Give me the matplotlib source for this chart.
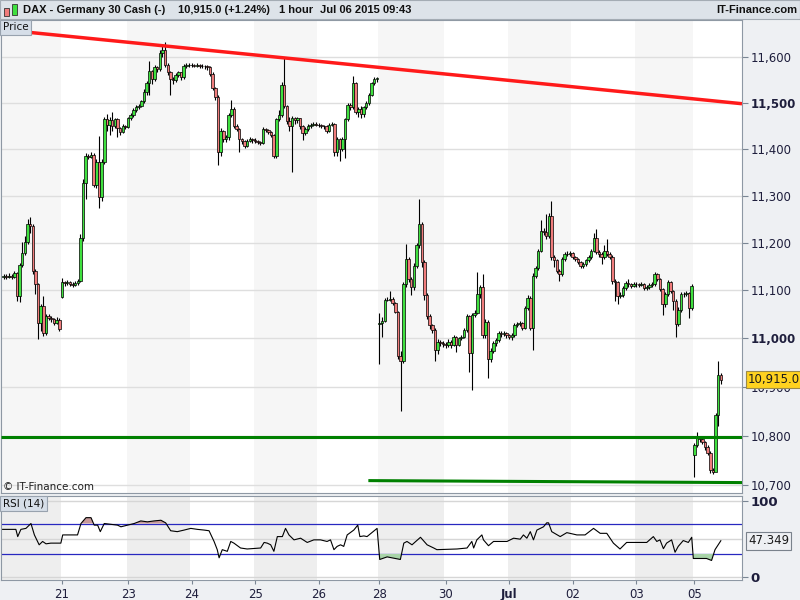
import matplotlib
matplotlib.use('Agg')
import matplotlib.pyplot as plt
import matplotlib.ticker as ticker
from matplotlib.patches import Rectangle
import numpy as np

# hourly candles (close / high / low), one line per trading session
closes = [
    11130, 11129, 11131, 11128, 11136, 11088, 11153, 11179, 11202, 11240, 11236, 11141, 11113, 11032, 11067, 11012, 11046, 11043, 11040, 11032, 11039, 11019,
    11117, 11115, 11117, 11113, 11112, 11116, 11120, 11211, 11328, 11386, 11384, 11388, 11322, 11372, 11298, 11372, 11464, 11452, 11462, 11450, 11464, 11445, 11436, 11450, 11448,
    11467, 11474, 11484, 11491, 11494, 11503, 11524, 11542, 11570, 11552, 11577, 11573, 11609, 11616, 11583, 11566, 11552, 11549, 11560, 11566, 11556, 11580, 11582, 11583,
    11582, 11581, 11583, 11580, 11581, 11579, 11578, 11563, 11532, 11513, 11393, 11439, 11421, 11425, 11474, 11486, 11450, 11443, 11421, 11418, 11407, 11418, 11421, 11420,
    11418, 11415, 11414, 11443, 11441, 11436, 11430, 11386, 11464, 11474, 11538, 11492, 11460, 11450, 11466, 11462, 11466, 11450, 11434, 11443, 11450, 11453, 11455, 11453,
    11452, 11450, 11449, 11439, 11452, 11455, 11393, 11421, 11400, 11421, 11464, 11496, 11490, 11542, 11479, 11486, 11475, 11490, 11500, 11517, 11542, 11551, 11553,
    11032, 11037, 11081, 11081, 11083, 11074, 11056, 10964, 10954, 11113, 11166, 11124, 11107, 11152, 11195, 11240, 11160, 11090, 11046, 11028, 11018, 10977, 10993, 10990, 10988,
    10986, 10993, 10986, 11003, 10986, 11000, 11003, 11018, 11046, 10969, 11049, 11054, 11092, 11107, 11007, 11035, 10958, 10975, 10990, 10996, 11011, 11009, 11011, 11007,
    11003, 11007, 11028, 11030, 11032, 11022, 11064, 11085, 11022, 11131, 11147, 11184, 11226, 11223, 11214, 11258, 11171, 11163, 11141, 11134, 11166, 11177, 11177, 11178,
    11170, 11166, 11159, 11152, 11156, 11163, 11170, 11184, 11211, 11181, 11177, 11170, 11184, 11177, 11170, 11120, 11117, 11088, 11090, 11105, 11115, 11113, 11110, 11113,
    11113, 11112, 11113, 11106, 11107, 11112, 11114, 11134, 11124, 11103, 11071, 11092, 11117, 11099, 11078, 11030, 11060, 11092, 11092, 11094, 11064, 11109,
    10781, 10795, 10793, 10788, 10778, 10765, 10730, 10727, 10842, 10924, 10915,
]
highs = [
    11135, 11134, 11136, 11134, 11140, 11138, 11158, 11202, 11215, 11251, 11255, 11240, 11145, 11115, 11072, 11088, 11050, 11050, 11046, 11043, 11044, 11042,
    11126, 11120, 11121, 11119, 11117, 11120, 11124, 11218, 11336, 11392, 11390, 11394, 11392, 11378, 11428, 11378, 11470, 11475, 11470, 11481, 11468, 11466, 11448, 11454, 11453,
    11470, 11478, 11488, 11495, 11498, 11507, 11530, 11548, 11590, 11572, 11582, 11580, 11614, 11625, 11632, 11586, 11570, 11556, 11564, 11570, 11568, 11584, 11586, 11587,
    11586, 11585, 11587, 11585, 11585, 11583, 11582, 11580, 11566, 11535, 11516, 11445, 11442, 11430, 11478, 11506, 11490, 11455, 11446, 11424, 11420, 11422, 11425, 11424,
    11423, 11420, 11418, 11447, 11446, 11444, 11438, 11432, 11468, 11485, 11545, 11598, 11495, 11470, 11472, 11470, 11470, 11468, 11452, 11447, 11454, 11457, 11459, 11458,
    11456, 11455, 11453, 11451, 11456, 11459, 11457, 11426, 11424, 11425, 11468, 11500, 11500, 11559, 11545, 11490, 11492, 11494, 11504, 11521, 11546, 11555, 11557,
    11053, 11045, 11085, 11086, 11099, 11086, 11076, 11058, 10975, 11118, 11198, 11170, 11128, 11158, 11200, 11294, 11244, 11164, 11094, 11050, 11030, 11022, 10998, 10997, 10994,
    10992, 10998, 10996, 11008, 11005, 11004, 11007, 11022, 11050, 11048, 11054, 11060, 11139, 11112, 11134, 11040, 11038, 10980, 10994, 11000, 11015, 11015, 11016, 11013,
    11010, 11011, 11032, 11034, 11036, 11035, 11068, 11090, 11088, 11136, 11152, 11188, 11248, 11232, 11262, 11264, 11290, 11175, 11166, 11145, 11170, 11181, 11182, 11182,
    11180, 11173, 11168, 11161, 11160, 11167, 11174, 11188, 11220, 11230, 11185, 11180, 11195, 11209, 11180, 11174, 11125, 11120, 11096, 11109, 11119, 11124, 11116, 11117,
    11117, 11116, 11117, 11115, 11111, 11116, 11118, 11138, 11136, 11127, 11106, 11096, 11121, 11119, 11102, 11082, 11065, 11096, 11097, 11098, 11097, 11113,
    10786, 10808, 10800, 10796, 10790, 10781, 10768, 10735, 10846, 10954, 10928,
]
lows = [
    11124, 11125, 11126, 11124, 11126, 11078, 11076, 11150, 11175, 11198, 11222, 11135, 11092, 10998, 11015, 11005, 11008, 11038, 11035, 11028, 11030, 11015,
    11085, 11110, 11111, 11109, 11108, 11109, 11112, 11118, 11205, 11294, 11378, 11380, 11318, 11316, 11273, 11290, 11368, 11440, 11430, 11440, 11445, 11425, 11430, 11434, 11443,
    11445, 11462, 11470, 11480, 11486, 11490, 11500, 11518, 11517, 11540, 11548, 11566, 11570, 11600, 11578, 11560, 11517, 11540, 11545, 11555, 11550, 11552, 11576, 11578,
    11578, 11577, 11578, 11576, 11576, 11574, 11572, 11558, 11528, 11505, 11365, 11385, 11415, 11416, 11420, 11470, 11445, 11438, 11393, 11412, 11402, 11404, 11415, 11414,
    11413, 11410, 11409, 11411, 11436, 11432, 11426, 11380, 11380, 11460, 11470, 11488, 11455, 11440, 11350, 11455, 11456, 11444, 11420, 11430, 11440, 11446, 11450, 11449,
    11448, 11446, 11444, 11435, 11437, 11450, 11385, 11385, 11375, 11395, 11380, 11460, 11484, 11486, 11475, 11470, 11468, 11470, 11486, 11496, 11514, 11538, 11546,
    10947, 11003, 11035, 11077, 11078, 11070, 11052, 10958, 10851, 10950, 11108, 11118, 11090, 11100, 11148, 11190, 11150, 11080, 11040, 11020, 11012, 10954, 10968, 10985, 10982,
    10980, 10983, 10980, 10984, 10972, 10984, 10996, 11000, 11014, 10930, 10894, 11045, 11050, 11085, 11000, 11002, 10918, 10952, 10970, 10985, 10992, 11003, 11005, 11002,
    10998, 10996, 11004, 11024, 11026, 11018, 11020, 11060, 11018, 10977, 11126, 11142, 11180, 11216, 11208, 11210, 11165, 11150, 11136, 11120, 11130, 11162, 11172, 11173,
    11166, 11161, 11155, 11147, 11148, 11152, 11160, 11166, 11180, 11176, 11170, 11156, 11166, 11172, 11166, 11114, 11078, 11071, 11084, 11086, 11100, 11108, 11105, 11107,
    11108, 11108, 11109, 11102, 11102, 11104, 11108, 11110, 11120, 11098, 11049, 11066, 11088, 11094, 11060, 11003, 11025, 11056, 11087, 11088, 11042, 11060,
    10717, 10778, 10788, 10783, 10772, 10760, 10724, 10722, 10735, 10820, 10905,
]
# opening prices after weekend gaps (other bars open at the previous close)
gap_opens = {0: 11128, 22: 11087, 142: 11030, 261: 10761}

# sessions: first bar of each labelled day, and the shaded session edges
day_labels = ['21', '23', '24', '25', '26', '28', '30', 'Jul', '02', '03', '05']
day_starts = [22, 47, 71, 95, 119, 142, 167, 191, 215, 239, 261]
session_edges = [-1.02, 21.5, 46.5, 70.5, 94.5, 118.5, 141.5, 166.5, 190.5, 214.5, 238.5, 260.5, 279]

price_ticks = [10700, 10800, 10900, 11000, 11100, 11200, 11300, 11400, 11500, 11600]
bold_ticks = [11000, 11500]
last_price = 10915.0

# drawn trend lines (bar index, price)
red_x, red_y = [-1.02, 279], [11660, 11498]
green1_x, green1_y = [-1.02, 279], [10797, 10797]
green2_x, green2_y = [137.8, 279], [10709, 10705]

# RSI(14)
rsi_x = [-0.4, 4.6, 5.3, 6.5, 8.4, 10.3, 11.6, 13.4, 14.7, 16, 17.8, 21.6, 22.3, 27.9, 29.2, 31.1, 33, 34.2, 35.5, 36.5,
         38, 43, 44.3, 46.8, 49.3, 51.8, 54.3, 56.8, 59.4, 61.2, 63.1, 65.6, 68.2, 70.7, 73.2, 75.7, 77.6, 79.5, 80.7, 81.4,
         82.6, 84.5, 85.8, 87, 89.5, 92, 97.1, 98.4, 99.6, 100.9, 102.1, 103.4, 105.3, 106.5, 107.8, 109.7, 112.2, 114.7, 117.2, 119.7,
         122.2, 123.5, 124.8, 126, 127.3, 128.5, 129.8, 132.3, 133.8, 134.6, 136.1, 137.3, 141.1, 142.1, 144.9, 148.7, 149.9, 151.2, 152.4, 154.3,
         157.5, 160, 162.5, 163.7, 171.3, 175.1, 176.9, 177.6, 178.8, 180.7, 181.3, 183.2, 185.1, 190.2, 192.7, 195.2, 196.4, 197.7, 199, 200.2,
         201.5, 204, 205.2, 205.9, 207.1, 210.3, 212.8, 216.6, 219.7, 222.9, 225.4, 227.9, 230.4, 232.9, 235.4, 243, 245.5, 246.8, 248, 249.3,
         250.5, 252.4, 253.7, 254.9, 256.8, 258.7, 260, 260.6, 265.6, 267.5, 268.8, 271]
rsi_y = [62.3, 62.3, 52.8, 62.3, 63.6, 70, 55, 42, 46.4, 43.3, 44.2, 44.2, 55, 55, 70, 77.7, 77.7, 67.9, 67.9, 59.3,
         70, 67.9, 65.7, 67.9, 70, 73.4, 72.2, 73.4, 74.3, 70.9, 60.5, 59.3, 61.4, 63.6, 62.3, 61.4, 60.5, 46.4, 35.6, 24.9,
         35.6, 33.4, 46.4, 44.2, 37.8, 36.5, 37.8, 45.1, 44.2, 42, 33.4, 52.8, 52.8, 63.6, 55, 48.5, 50.7, 45.1, 48.5, 48.5,
         46.4, 48.5, 35.6, 39.9, 42, 39.9, 55, 61.4, 67.9, 52.8, 53.7, 52.8, 63.6, 22.7, 26.1, 23.6, 22.7, 44.2, 46.4, 42,
         51.9, 42, 37.8, 35.6, 36.5, 37.8, 46.4, 37.8, 48.5, 55, 48.5, 40.8, 46.4, 46.4, 50.7, 49.4, 55, 50.7, 59.3, 48.5,
         61.4, 65.7, 70.9, 70.9, 59.3, 52.8, 58, 55, 55, 63.6, 57.1, 57.1, 44.2, 36.5, 45.1, 45.1, 52.8, 46.4, 48.5, 36.9,
         44.2, 48.5, 32.2, 39.9, 47.6, 45.1, 51.9, 24, 24, 21.4, 35.6, 47.349]
rsi_last = 47.349

BG = '#eef0f3'
FRAME = '#8e98a4'
TICKCOL = '#1e1e3c'
HEADFONT = ['Liberation Sans', 'DejaVu Sans']


def px(x0, y0, x1, y1):
    # pixel box (top-left origin) -> figure fraction rect
    return [x0 / 800, 1 - y1 / 600, (x1 - x0) / 800, (y1 - y0) / 600]


fig = plt.figure(figsize=(8, 6), dpi=100, facecolor=BG)
ax = fig.add_axes(px(1, 20, 742, 493))
axr = fig.add_axes(px(1, 496, 742, 580), sharex=ax)

# ---------------- price panel ----------------
ax.set_yscale('log')
ax.set_ylim(10684, 11681)
ax.set_xlim(session_edges[0], session_edges[-1])

for k in range(len(session_edges) - 1):
    if k % 2 == 0:
        ax.axvspan(session_edges[k], session_edges[k + 1], color='#f6f6f6', lw=0, zorder=0)
        axr.axvspan(session_edges[k], session_edges[k + 1], color='#eeeeee', lw=0, zorder=0)

for p in price_ticks:
    ax.axhline(p, color='#dedede', lw=1, zorder=1)

x = np.arange(len(closes))
opens = [gap_opens.get(i, closes[i - 1]) for i in x]
bottoms = [min(o, c) for o, c in zip(opens, closes)]
heights = [abs(c - o) for o, c in zip(opens, closes)]
colors = ['#3fe03f' if c >= o else '#f07c7c' for o, c in zip(opens, closes)]

ax.vlines(x, lows, highs, color='black', lw=0.8, zorder=2)
ax.bar(x, heights, bottom=bottoms, width=0.95, color=colors, edgecolor='black', linewidth=0.5, zorder=3)

ax.plot(red_x, red_y, color='#ff1a1a', lw=2.5, solid_capstyle='butt', zorder=4)
ax.plot(green1_x, green1_y, color='#008000', lw=2.2, solid_capstyle='butt', zorder=4)
ax.plot(green2_x, green2_y, color='#008000', lw=2.2, solid_capstyle='butt', zorder=4)

ax.yaxis.tick_right()
ax.set_yticks(price_ticks, labels=[f'{p:,}' for p in price_ticks])
ax.yaxis.set_minor_locator(ticker.NullLocator())
for lab, p in zip(ax.get_yticklabels(), price_ticks):
    if p in bold_ticks:
        lab.set_fontweight('bold')
        lab.set_fontsize(9.5)
ax.tick_params(axis='y', direction='out', length=4, color='#7a8694', labelsize=8.5,
               labelcolor=TICKCOL, pad=2)
ax.tick_params(axis='x', bottom=False, labelbottom=False)
for s in ax.spines.values():
    s.set_color(FRAME)
ax.set_facecolor('white')

ax.text(1.008, last_price, f'{last_price:,.1f}', transform=ax.get_yaxis_transform(),
        ha='left', va='center', fontsize=8.5, color='#1a1a1a', zorder=10, clip_on=False,
        bbox=dict(boxstyle='square,pad=0.2', fc='#ffd21f', ec='#9a8a4a', lw=0.8))

# ---------------- RSI panel ----------------
axr.set_ylim(-4.3, 106.2)
for v in [0, 50, 100]:
    axr.axhline(v, color='#d6d6d6', lw=1, zorder=1)
axr.axhline(70, color='#2828c0', lw=0.9, zorder=2)
axr.axhline(30, color='#2828c0', lw=0.9, zorder=2)
ry = np.array(rsi_y)
axr.fill_between(rsi_x, ry, 70, where=ry > 70, interpolate=True, color='#c89a9a', lw=0, zorder=2)
axr.fill_between(rsi_x, ry, 30, where=ry < 30, interpolate=True, color='#a8d4a8', lw=0, zorder=2)
axr.plot(rsi_x, ry, color='black', lw=0.8, zorder=3)

axr.yaxis.tick_right()
axr.set_yticks([0, 100], labels=['0', '100'])
for lab in axr.get_yticklabels():
    lab.set_fontweight('bold')
axr.tick_params(axis='y', direction='out', length=4, color='#7a8694', labelsize=9.5,
                labelcolor=TICKCOL, pad=2)
axr.set_xticks(day_starts, labels=day_labels)
for lab in axr.get_xticklabels():
    if lab.get_text() == 'Jul':
        lab.set_fontweight('bold')
axr.tick_params(axis='x', direction='out', length=3, color='#7a8694', labelsize=8.5,
                labelcolor=TICKCOL, pad=3)
for s in axr.spines.values():
    s.set_color(FRAME)
axr.set_facecolor('white')

axr.text(1.008, rsi_last, f'{rsi_last:.3f}', transform=axr.get_yaxis_transform(),
         ha='left', va='center', fontsize=8.5, color='#1a1a1a', zorder=10, clip_on=False,
         bbox=dict(boxstyle='square,pad=0.2', fc=BG, ec='#7a828c', lw=0.8))

# ---------------- header and labels ----------------
fig.patches.append(Rectangle((0, 1 - 19 / 600), 1, 19 / 600, transform=fig.transFigure,
                             fc='#dde3e9', ec='#a4acb4', lw=0.8, zorder=0))
# little candle icon
fig.patches.append(Rectangle((4 / 800, 1 - 16 / 600), 5 / 800, 8 / 600, transform=fig.transFigure,
                             fc='#f07c7c', ec='#333333', lw=0.6))
fig.patches.append(Rectangle((12 / 800, 1 - 15 / 600), 5 / 800, 11 / 600, transform=fig.transFigure,
                             fc='#3fe03f', ec='#333333', lw=0.6))

head_y = 1 - 10 / 600
head_kw = dict(va='center', fontsize=8, color='#101010', fontweight='bold', family=HEADFONT)
fig.text(23 / 800, head_y, 'DAX - Germany 30 Cash (-)', **head_kw)
fig.text(178 / 800, head_y, '10,915.0 (+1.24%)', **head_kw)
fig.text(279 / 800, head_y, '1 hour', **head_kw)
fig.text(320 / 800, head_y, 'Jul 06 2015 09:43', **head_kw)
fig.text(797 / 800, head_y, 'IT-Finance.com', ha='right', **head_kw)

fig.text(3 / 800, 1 - 27.5 / 600, 'Price', va='center', fontsize=7.5, color='#101010',
         bbox=dict(boxstyle='square,pad=0.25', fc='#d6dee8', ec='#98a2ae', lw=0.8))
fig.text(3 / 800, 1 - 503.5 / 600, 'RSI (14)', va='center', fontsize=7.5, color='#101010',
         bbox=dict(boxstyle='square,pad=0.25', fc='#d6dee8', ec='#98a2ae', lw=0.8))
fig.text(3 / 800, 1 - 487 / 600, '\u00a9 IT-Finance.com', va='center', fontsize=7.5, color='#202020')

fig.savefig('out.png', dpi=100, facecolor=BG)
